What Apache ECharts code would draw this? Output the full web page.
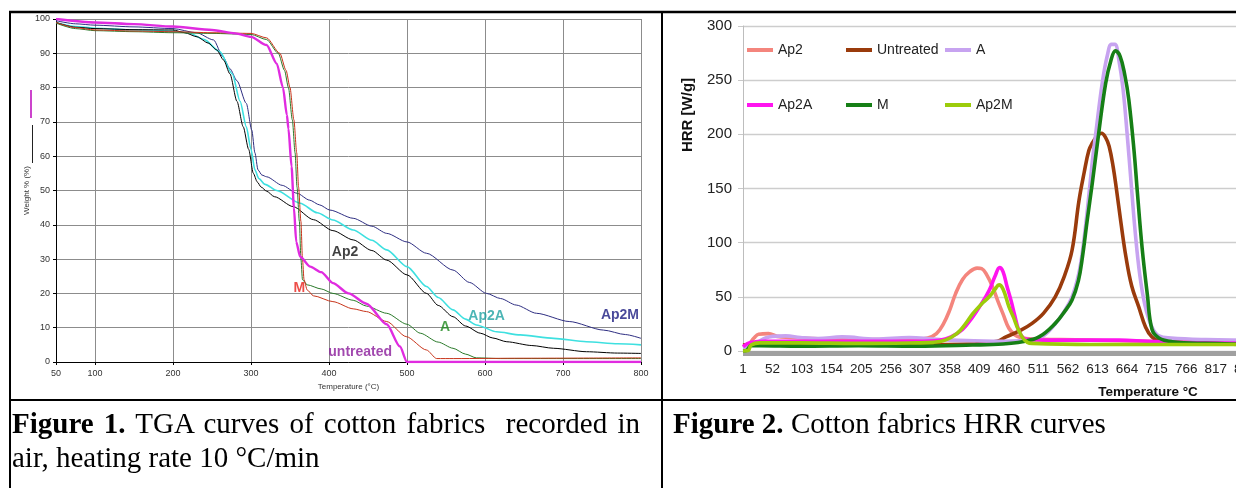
<!DOCTYPE html>
<html><head><meta charset="utf-8">
<script src="https://cdn.jsdelivr.net/npm/echarts@6/dist/echarts.min.js"></script>
<style>
html,body{margin:0;padding:0;background:#fff;overflow:hidden;width:1236px;height:488px}
#c{position:absolute;left:0;top:0;width:1290px;height:488px}
.cap{position:absolute;font-family:"Liberation Serif","Times New Roman",serif;font-size:29px;line-height:34px;color:#000}
.cap b{font-weight:bold}
#cap1{left:12px;top:406px;width:628px;text-align:justify}
#cap2{left:673px;top:406px;width:560px;text-align:left}
</style>
</head><body><div id="c"></div>
<div class="cap" id="cap1"><b>Figure 1.</b> TGA curves of cotton fabrics&nbsp; recorded in air, heating rate 10 °C/min</div>
<div class="cap" id="cap2"><b>Figure 2.</b> Cotton fabrics HRR curves</div>
<script>
// ---------- Figure 1: TGA (temperature °C, weight %) ----------
const tgaXTicks = [50,100,200,300,400,500,600,700,800];
const tgaAp2 = [[50,99],[75,97.6],[100,97.2],[150,96.9],[200,96.8],[215,96],[231,94.8],[245,93],[256,91],[265,88],[273,84],[282,76],[290,68.6],[297,62],[303,55],[308,52.5],[313,51],[320,49.8],[330,48.2],[354,45.3],[380,41.5],[405,38.3],[431,35.6],[455,32.5],[474,29.7],[500,25.4],[525,20],[540,16.5],[559,13.2],[575,10.5],[594,8.4],[610,7],[628,5.9],[660,4.8],[688,4],[730,3],[770,2.6],[800,2.5]];
const tgaAp2A = [[50,99],[75,97.8],[100,97.3],[150,96.8],[200,96.4],[220,96],[240,94],[260,90.5],[276,84],[286,76],[294,68.6],[300,62],[305,56],[310,53.5],[318,51.8],[333,50],[363,46.3],[385,43.5],[405,41.4],[431,38.5],[455,35.5],[474,32.7],[500,27.8],[525,22],[540,18.8],[559,15.2],[575,12.5],[589,10.8],[615,8.8],[645,7.9],[688,6.9],[730,5.9],[770,5.3],[800,5]];
const tgaAp2M = [[50,99.5],[75,98.6],[100,98.2],[150,97.7],[200,97.2],[230,96],[252,93.9],[264,89],[273,85.5],[282,82],[294,75.4],[301,67.6],[305,61],[309,56],[314,54.5],[320,54],[340,51.5],[359,49.2],[375,47.2],[388,45.8],[401,44.3],[431,41.9],[455,39.6],[474,37.5],[500,35],[525,31.7],[559,26.8],[580,23.2],[602,20],[620,18.5],[640,16.6],[666,14.2],[708,11.8],[752,9.3],[780,8],[800,6.9]];
const tgaA = [[50,98.8],[75,97.2],[100,96.6],[150,96.3],[200,96],[250,95.8],[300,95.5],[320,94],[335,90],[343,85],[348,80],[353,70.6],[356.5,61],[359,51],[362,41],[364,30],[366,24],[372,22.5],[390,21.3],[405,20],[431,18],[448,16.3],[474,14.2],[500,11],[517,8.4],[540,5.8],[559,4],[575,2.3],[589,1.2],[620,1],[700,1],[800,1]];
const tgaM = [[50,99],[75,97.5],[100,96.8],[150,96.5],[200,96.3],[250,96],[300,95.8],[320,94.5],[337,90],[345,85],[350,80],[355,70.6],[358.6,61],[361,51],[364,41],[366,30],[368,24],[372,21],[380,19.3],[405,17.6],[431,15.5],[448,14.7],[474,11.8],[499,7.4],[525,3.5],[538,1],[560,1],[650,1.1],[800,1.2]];
const tgaUntreated = [[50,100],[100,99],[150,98.5],[200,97.8],[250,96.8],[280,95.8],[300,94.8],[320,92.4],[333,87],[341,80],[346,72],[348,68],[352,57],[355,45],[358,35],[363,30.7],[376,27.8],[390,26.2],[405,23],[425,20],[448,17],[474,11],[491,4.5],[500,0],[800,0]];
const tgaLabels = [
  {name:'Ap2', at:[420.5,31.9], color:'#111111'},
  {name:'M', at:[362,21.5], color:'#e8201a'},
  {name:'A', at:[548.7,10.3], color:'#1f8a1f'},
  {name:'Ap2A', at:[602,13.4], color:'#1fa3a3'},
  {name:'Ap2M', at:[773,13.7], color:'#1a1a80'},
  {name:'untreated', at:[440,2.8], color:'#8a1a9a'}
];

// ---------- Figure 2: HRR (temperature category, W/g) ----------
const hrrCategoryCount = 900;
const hrrLabelStep = 51;
const hrrAp2 = [[1,5],[10,6],[20,12],[28,15.5],[45,16],[60,13.5],[80,12.5],[120,11.5],[160,11],[200,10.5],[250,10.5],[300,11],[320,12],[335,16],[347,25],[358,38],[368,53],[380,66],[392,73],[405,76.5],[413,76],[422,70],[432,59],[441,46],[450,34],[460,21],[470,15],[480,12.5],[500,11],[550,10.5],[600,10],[650,9.5],[700,9],[750,8.5],[800,8.5],[900,8]];
const hrrUntreated = [[1,5.5],[20,6],[50,6],[100,7],[150,7.5],[200,6.5],[300,6],[400,6.5],[440,9],[455,13],[480,19],[500,25.5],[520,35],[540,50],[555,68],[569,93],[581,139],[590,165],[598,185],[604,192],[613,199],[620,201],[627,197],[633,189],[640,170],[646,148],[653,120],[662,87],[672,60],[684,41],[696,22],[707,13],[720,9],[740,7.5],[800,7],[900,6.5]];
const hrrA = [[1,3],[10,5],[25,8],[40,12],[52,13.5],[75,14],[100,12.5],[130,11.5],[172,13],[230,11],[288,12.5],[330,11],[360,10],[400,9.5],[450,9],[500,10],[520,14],[540,25],[555,36],[569,50],[580,70],[587,92],[595,128],[604,175],[610,201],[621,247],[630,273],[637,283],[643,283],[650,268],[657,242],[664,201],[671,155],[678,110],[686,70],[695,42],[707,22],[719,14],[740,12],[800,10.5],[900,9.5]];
const hrrAp2A = [[1,4],[15,8],[40,9],[100,9],[200,9],[300,9],[340,10],[360,13],[380,20],[397,31],[412,43],[426,56],[436,69],[444,77],[450,73],[457,59],[464,46],[470,33],[477,19],[485,12],[495,10.5],[550,10],[650,10],[700,9],[800,7.5],[900,7]];
const hrrM = [[1,0],[8,1],[15,5],[30,5],[100,4.5],[200,5],[300,4.5],[397,5.5],[450,6.5],[483,8.6],[512,13],[540,25.5],[557,37],[569,47],[580,65],[587,87],[595,120],[604,155],[615,201],[627,247],[636,268],[644,277],[652,272],[660,255],[667,232],[676,185],[682,145],[690,95],[699,52],[707,20],[719,12],[742,8.6],[800,7],[900,6]];
const hrrAp2M = [[1,0],[10,0.5],[15,5.5],[30,7.5],[100,7.5],[200,7],[300,7.5],[330,8],[350,10],[370,16],[385,25],[397,34],[412,43],[426,50],[436,57],[443,61],[450,57],[460,41],[468,31],[476,20],[484,12],[492,8],[500,7],[600,6],[700,6],[800,6],[900,6]];

const hrrSeries = [
  {name:'Ap2', data:hrrAp2, color:'#f4857d'},
  {name:'Untreated', data:hrrUntreated, color:'#9a3b0c'},
  {name:'A', data:hrrA, color:'#c7a3f0'},
  {name:'Ap2A', data:hrrAp2A, color:'#ff14ef'},
  {name:'M', data:hrrM, color:'#167f16'},
  {name:'Ap2M', data:hrrAp2M, color:'#9ccc0a'}
];
const legendPos = [[747,43],[846,43],[945,43],[747,98],[846,98],[945,98]];

const hrrCats = [];
for (let i = 1; i <= hrrCategoryCount; i++) hrrCats.push(String(i));

const tgaSeries = [
  {name:'Ap2M', data:tgaAp2M, color:'#2e2e82', w:1},
  {name:'Ap2A', data:tgaAp2A, color:'#3ee0e0', w:1.6},
  {name:'Ap2', data:tgaAp2, color:'#000000', w:1},
  {name:'A', data:tgaA, color:'#2a7a2a', w:1},
  {name:'M', data:tgaM, color:'#c8341a', w:1},
  {name:'untreated', data:tgaUntreated, color:'#e02be0', w:2.4}
];

const sans = '"Liberation Sans", Arial, sans-serif';

const chart = echarts.init(document.getElementById('c'), null, {renderer:'canvas'});

const series = [];
tgaSeries.forEach(s => series.push({
  type:'line', name:'TGA ' + s.name, xAxisIndex:0, yAxisIndex:0, data:s.data,
  showSymbol:false, symbol:'none', smooth:0.25, smoothMonotone:'x',
  lineStyle:{color:s.color, width:s.w}, itemStyle:{color:s.color}, silent:true, animation:false
}));
series.push({
  type:'scatter', name:'TGA labels', xAxisIndex:0, yAxisIndex:0, symbolSize:0, silent:true, animation:false, z:10,
  data: tgaLabels.map(l => ({name:l.name, value:l.at, label:{color:l.color}})),
  label:{show:true, position:'inside', formatter:'{b}', fontFamily:sans, fontWeight:'bold', fontSize:14}
});
hrrSeries.forEach(s => series.push({
  type:'line', name:s.name, xAxisIndex:1, yAxisIndex:1,
  data:s.data.map(p => [p[0]-1, p[1]]),
  showSymbol:false, symbol:'none', smooth:0.4,
  lineStyle:{color:s.color, width:3.6}, itemStyle:{color:s.color}, silent:true, animation:false
}));

const legends = hrrSeries.map((s,i) => ({
  data:[s.name], left:legendPos[i][0], top:legendPos[i][1], icon:'rect', itemWidth:26, itemHeight:4,
  padding:0, selectedMode:false, textStyle:{fontFamily:sans, fontSize:14, color:'#222'}
}));

chart.setOption({
  animation:false,
  backgroundColor:'#ffffff',
  legend: legends,
  grid:[
    {left:56, top:19, width:585, height:343, containLabel:false},
    {left:743, top:26, width:(hrrCategoryCount-1)*0.5793, height:325, containLabel:false}
  ],
  xAxis:[
    {type:'value', gridIndex:0, min:50, max:800,
     axisLine:{lineStyle:{color:'#000', width:1}},
     axisTick:{show:true, length:3, lineStyle:{color:'#000'}, customValues:tgaXTicks},
     axisLabel:{customValues:tgaXTicks, fontFamily:sans, fontSize:9, color:'#333', margin:7},
     splitLine:{show:true, lineStyle:{color:'#8c8c8c', width:1}},
     name:'Temperature (°C)', nameLocation:'middle', nameGap:21,
     nameTextStyle:{fontFamily:sans, fontSize:8, color:'#333'}},
    {type:'category', gridIndex:1, data:hrrCats, boundaryGap:false,
     axisLine:{lineStyle:{color:'#9a9a9a', width:1}},
     axisTick:{show:true, interval:0, length:5, lineStyle:{color:'#a0a0a0', width:1}},
     axisLabel:{interval:hrrLabelStep-1, fontFamily:sans, fontSize:13.5, color:'#222', margin:11, hideOverlap:false},
     splitLine:{show:false}}
  ],
  yAxis:[
    {type:'value', gridIndex:0, min:0, max:100, interval:10,
     axisLine:{show:true, lineStyle:{color:'#000', width:1}},
     axisTick:{show:true, length:3, lineStyle:{color:'#000'}},
     axisLabel:{fontFamily:sans, fontSize:9, color:'#333', margin:6},
     splitLine:{show:true, lineStyle:{color:'#8c8c8c', width:1}},
     name:'Weight % (%)', nameLocation:'middle', nameGap:20,
     nameTextStyle:{fontFamily:sans, fontSize:8, color:'#333'}},
    {type:'value', gridIndex:1, min:0, max:300, interval:50,
     axisLine:{show:true, lineStyle:{color:'#bdbdbd', width:1}},
     axisTick:{show:true, length:5, lineStyle:{color:'#c8c8c8'}},
     axisLabel:{fontFamily:sans, fontSize:15, color:'#222', margin:11},
     splitLine:{show:true, lineStyle:{color:'#cdcdcd', width:1.3}}}
  ],
  series: series,
  graphic:[
    {type:'line', shape:{x1:9, y1:12, x2:1290, y2:12}, style:{stroke:'#000', lineWidth:2.5}, z:100},
    {type:'line', shape:{x1:10, y1:11, x2:10, y2:488}, style:{stroke:'#000', lineWidth:2}, z:100},
    {type:'line', shape:{x1:662, y1:11, x2:662, y2:488}, style:{stroke:'#000', lineWidth:2}, z:100},
    {type:'line', shape:{x1:9, y1:400, x2:1290, y2:400}, style:{stroke:'#000', lineWidth:2}, z:100},
    {type:'line', shape:{x1:31, y1:90, x2:31, y2:118}, style:{stroke:'#cc44cc', lineWidth:2}, z:50},
    {type:'line', shape:{x1:32.5, y1:125, x2:32.5, y2:163}, style:{stroke:'#222', lineWidth:1}, z:50},
    {type:'text', x:688, y:115, rotation:Math.PI/2, z:50,
     style:{text:'HRR [W/g]', fontFamily:sans, fontWeight:'bold', fontSize:15, fill:'#111', align:'center', verticalAlign:'middle'}},
    {type:'text', x:1148, y:392, z:50,
     style:{text:'Temperature °C', fontFamily:sans, fontWeight:'bold', fontSize:13.5, fill:'#111', align:'center', verticalAlign:'middle'}}
  ]
});
</script>
</body></html>
